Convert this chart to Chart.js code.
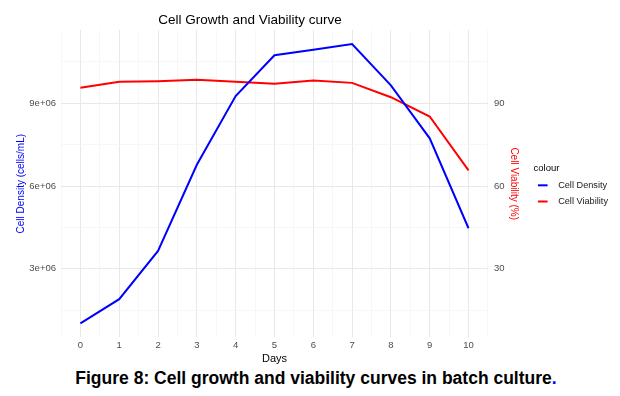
<!DOCTYPE html>
<html>
<head>
<meta charset="utf-8">
<script src="https://cdn.jsdelivr.net/npm/chart.js@4.4.1/dist/chart.umd.min.js"></script>
<style>
  body { margin: 0; background: #fff; font-family: "Liberation Sans", Arial, sans-serif; }
  #wrap { position: relative; width: 620px; height: 368px; }
  #caption { width: 608px; padding-left: 12px; text-align: center; font-weight: bold; font-size: 17.5px; line-height: 20px; color: #000; }
</style>
</head>
<body>
<div id="wrap"><canvas id="growth"></canvas></div>
<div id="caption">Figure 8: Cell growth and viability curves in batch culture<span style="color:#0000ff">.</span></div>
<script>
var days = [0, 1, 2, 3, 4, 5, 6, 7, 8, 9, 10];
var cellDensity = [1.02e6, 1.90e6, 3.65e6, 6.77e6, 9.26e6, 10.74e6, 10.94e6, 11.15e6, 9.65e6, 7.73e6, 4.47e6];
var cellViability = [95.6, 97.8, 98.0, 98.5, 97.8, 97.1, 98.3, 97.4, 92.2, 85.2, 65.7];
var densityTicks = [3e6, 6e6, 9e6];
var viabilityTicks = [30, 60, 90];

// viability is drawn on the density scale divided by 1e5
var lo = Math.min.apply(null, cellDensity), hi = Math.max.apply(null, cellDensity);
var pad = (hi - lo) * 0.05;
var yMin = lo - pad, yMax = hi + pad;

var font = '"Liberation Sans", Arial, sans-serif';
var tickGrey = '#4d4d4d';

function pts(ys) {
  return days.map(function(d, i) { return { x: d, y: ys[i] }; });
}

// ggplot-like legend key: short line on the left of a wider box
function keyLine(color) {
  var c = document.createElement('canvas');
  c.width = 19; c.height = 4;
  var k = c.getContext('2d');
  k.strokeStyle = color;
  k.lineWidth = 2;
  k.beginPath(); k.moveTo(0, 2); k.lineTo(10, 2); k.stroke();
  return c;
}

var gridX = [];
for (var g = -0.5; g <= 10.5; g += 0.5) gridX.push(g);
var gridY = [];
for (var h = 1.5e6; h < yMax; h += 1.5e6) if (h > yMin) gridY.push(h);

var plotTitle = {
  id: 'plotTitle',
  afterDraw: function(chart) {
    var ctx = chart.ctx;
    ctx.save();
    ctx.font = '13.5px ' + font;
    ctx.fillStyle = '#000';
    ctx.textAlign = 'center';
    ctx.textBaseline = 'middle';
    ctx.fillText('Cell Growth and Viability curve', 250, 20);
    ctx.restore();
  }
};

function gridColor(major) {
  return function(c) { return c.tick && major(c.tick.value) ? '#e8e8e8' : '#f3f3f3'; };
}
function gridWidth(major) {
  return function(c) { return c.tick && major(c.tick.value) ? 1 : 0.7; };
}
var isDay = function(v) { return Math.abs(v % 1) < 1e-9; };
var isDensTick = function(v) { return densityTicks.indexOf(v) >= 0; };

new Chart(document.getElementById('growth'), {
  type: 'line',
  data: {
    datasets: [{
      label: 'Cell Density',
      data: pts(cellDensity),
      borderColor: '#0000ff',
      backgroundColor: '#0000ff',
      borderWidth: 2,
      pointRadius: 0,
      pointStyle: keyLine('#0000ff'),
      yAxisID: 'y'
    }, {
      label: 'Cell Viability',
      data: pts(cellViability),
      borderColor: '#ff0000',
      backgroundColor: '#ff0000',
      borderWidth: 2,
      pointRadius: 0,
      pointStyle: keyLine('#ff0000'),
      yAxisID: 'y2'
    }]
  },
  plugins: [plotTitle],
  options: {
    responsive: true,
    maintainAspectRatio: false,
    animation: false,
    layout: { padding: { top: 30, right: 2, bottom: 0, left: 0 } },
    plugins: {
      tooltip: { enabled: false },
      legend: {
        position: 'right',
        align: 'center',
        fullSize: false,
        title: { display: true, position: 'start', text: 'colour', color: '#000', font: { family: font, size: 9.5 }, padding: { top: 9, bottom: -1 } },
        labels: {
          usePointStyle: true,
          pointStyleWidth: 13,
          padding: 7,
          color: '#1a1a1a',
          font: { family: font, size: 9.2 }
        }
      }
    },
    scales: {
      x: {
        type: 'linear',
        min: -0.5,
        max: 10.5,
        afterBuildTicks: function(s) { s.ticks = gridX.map(function(v) { return { value: v }; }); },
        border: { display: false },
        grid: { drawTicks: false, color: gridColor(isDay), lineWidth: gridWidth(isDay) },
        ticks: {
          autoSkip: false, maxRotation: 0, padding: 2, color: tickGrey,
          font: { family: font, size: 9.5 },
          callback: function(v) { return isDay(v) && v >= 0 && v <= 10 ? String(v) : ''; }
        },
        title: { display: true, text: 'Days', color: '#000', font: { family: font, size: 11 }, padding: { top: 0, bottom: 2 } }
      },
      y: {
        position: 'left',
        min: yMin,
        max: yMax,
        afterBuildTicks: function(s) { s.ticks = gridY.map(function(v) { return { value: v }; }); },
        afterFit: function(s) { s.width = 61; },
        border: { display: false },
        grid: { drawTicks: false, color: gridColor(isDensTick), lineWidth: gridWidth(isDensTick) },
        ticks: {
          padding: 5, color: tickGrey, font: { family: font, size: 9.5 },
          callback: function(v) { return isDensTick(v) ? (v / 1e6) + 'e+06' : ''; }
        },
        title: { display: true, text: 'Cell Density (cells/mL)', color: '#0000ff', font: { family: font, size: 10 }, padding: { top: 15.5, bottom: 0 } }
      },
      y2: {
        position: 'right',
        min: yMin / 1e5,
        max: yMax / 1e5,
        afterBuildTicks: function(s) { s.ticks = viabilityTicks.map(function(v) { return { value: v }; }); },
        afterFit: function(s) { s.width = 45.6; },
        border: { display: false },
        grid: { display: false, drawTicks: false },
        ticks: { padding: 6, color: tickGrey, font: { family: font, size: 9.5 } },
        title: { display: true, text: 'Cell Viability (%)', color: '#ff0000', font: { family: font, size: 10 }, padding: { top: 13.5, bottom: 0 } }
      }
    }
  }
});
</script>
</body>
</html>
